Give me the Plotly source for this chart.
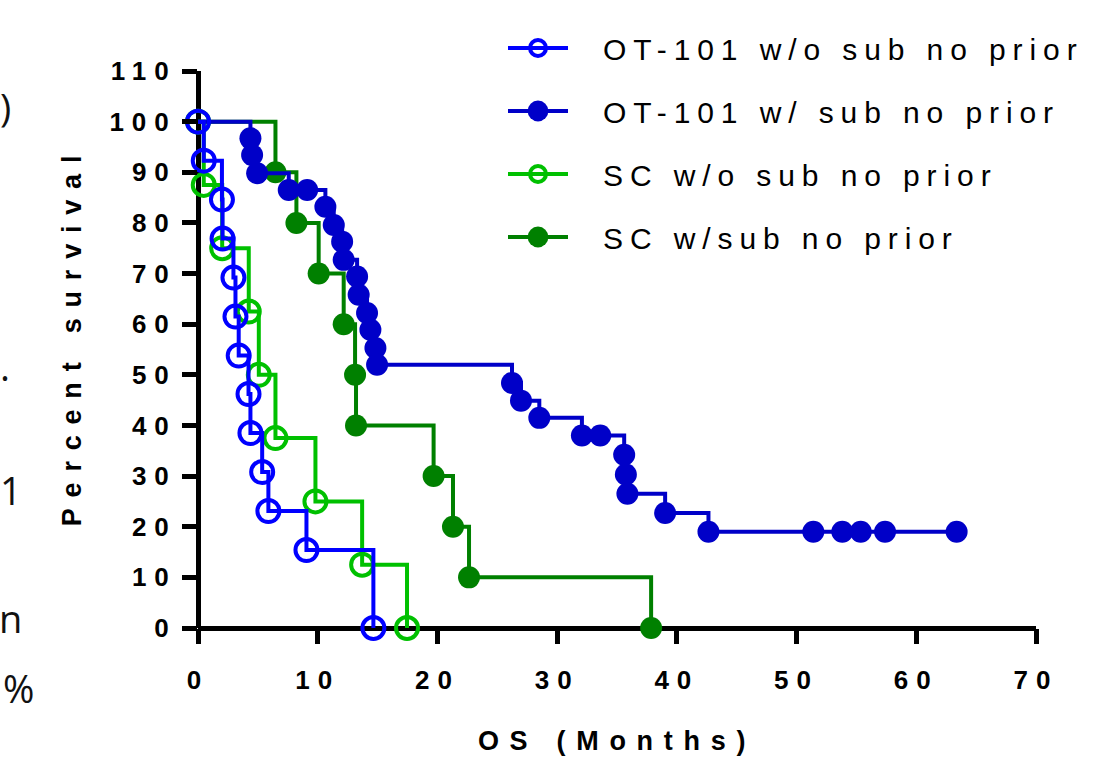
import plotly.graph_objects as go

# ---- data (OS in months, percent survival) ----
ot_wo_t = [0.48, 2.0, 2.05, 2.96, 3.13, 3.4, 4.22, 4.38, 5.36, 5.88, 9.06, 14.65]
ot_wo_s = [92.3, 84.6, 76.9, 69.2, 61.5, 53.8, 46.2, 38.5, 30.8, 23.1, 15.4, 0]

ot_w_t = [4.38, 4.52, 4.94, 7.58, 9.12, 10.64, 11.34, 12.04, 12.17, 13.29,
          13.42, 14.12, 14.4, 14.82, 14.96, 26.23, 26.98, 28.51, 32.07, 33.6,
          35.6, 35.74, 35.87, 39.02, 42.64, 51.4, 53.82, 55.36, 57.39, 63.37]
ot_w_s = [96.7, 93.4, 89.8, 86.5, 86.5, 83.2, 79.6, 76.3, 72.7, 69.4,
          65.8, 62.2, 58.9, 55.3, 52.0, 48.4, 44.9, 41.5, 38.0, 38.0,
          34.2, 30.3, 26.5, 22.7, 19.0, 19.0, 19.0, 19.0, 19.0, 19.0]

sc_wo_t = [0.48, 2.02, 4.24, 5.08, 6.47, 9.81, 13.71, 17.46]
sc_wo_s = [87.5, 75, 62.5, 50, 37.5, 25, 12.5, 0]

sc_w_t = [6.47, 8.22, 10.08, 12.17, 13.12, 13.2, 19.68, 21.3, 22.64, 37.85]
sc_w_s = [90, 80, 70, 60, 50, 40, 30, 20, 10, 0]

series_names = ["OT-101 w/o sub no prior", "OT-101 w/ sub no prior",
                "SC w/o sub no prior", "SC w/sub no prior"]
x_ticks = [0, 10, 20, 30, 40, 50, 60, 70]
y_ticks = [0, 10, 20, 30, 40, 50, 60, 70, 80, 90, 100, 110]

# drawing order: bottom first
series = [
    dict(name=series_names[3], t=sc_w_t, s=sc_w_s, color="#008000", open=False, rank=4),
    dict(name=series_names[2], t=sc_wo_t, s=sc_wo_s, color="#00C000", open=True, rank=3),
    dict(name=series_names[1], t=ot_w_t, s=ot_w_s, color="#0000C8", open=False, rank=2),
    dict(name=series_names[0], t=ot_wo_t, s=ot_wo_s, color="#0000FF", open=True, rank=1),
]

fig = go.Figure()
for i, sd in enumerate(series):
    xs = [0] + sd["t"]
    ys = [100] + sd["s"]
    sizes = [22 if sd["open"] else 0] + [22] * len(sd["t"])
    fig.add_trace(go.Scatter(
        x=xs, y=ys, mode="lines+markers", name=sd["name"],
        line=dict(shape="hv", width=4, color=sd["color"]),
        marker=dict(symbol="circle-open" if sd["open"] else "circle",
                    size=sizes, color=sd["color"], opacity=1,
                    line=dict(width=4 if sd["open"] else 0, color=sd["color"])),
        legendrank=sd["rank"], legendgroup=str(i), cliponaxis=False,
        hoverinfo="skip",
    ))

tickfont = dict(family="Liberation Sans", size=26, color="black", weight="bold")
titlefont = dict(family="Liberation Sans", size=27, color="black", weight="bold")

fig.update_layout(
    width=1093, height=765,
    margin=dict(l=198, r=57, t=71, b=137, autoexpand=False),
    paper_bgcolor="white", plot_bgcolor="white",
    showlegend=True,
    legend=dict(x=(503 - 198) / 838, xanchor="left", y=1 + (71 - 22) / 557, yanchor="top",
                font=dict(family="Liberation Sans", size=30, color="black"),
                bgcolor="rgba(0,0,0,0)", itemwidth=60, tracegroupgap=21,
                itemsizing="trace"),
    xaxis=dict(range=[0, 70], tickvals=x_ticks, ticktext=[str(v) for v in x_ticks],
               showgrid=False, showline=False, zeroline=True, zerolinecolor="black",
               zerolinewidth=5, ticks="outside", ticklen=15, tickwidth=5, tickcolor="black",
               tickfont=tickfont, ticklabelstandoff=14,
               title=dict(text="OS (Months)", font=titlefont, standoff=36)),
    yaxis=dict(range=[0, 110], tickvals=y_ticks, ticktext=[str(v) for v in y_ticks],
               showgrid=False, showline=False, zeroline=True, zerolinecolor="black",
               zerolinewidth=5, ticks="outside", ticklen=15, tickwidth=5, tickcolor="black",
               tickfont=tickfont,
               title=dict(text="Percent survival", font=titlefont, standoff=43)),
)

# fragments of neighbouring text at the left edge of the picture
frag_font = dict(family="Open Sans", size=38, color="#111111")
for txt, px, py in [(")", 13, 107), (".", 12, 366), ("1", 24, 490), ("n", 24, 618), ("%", 36, 688)]:
    fig.add_annotation(text=txt, xref="paper", yref="paper",
                       x=(px - 198) / 838, y=(628 - py) / 557,
                       xanchor="right", yanchor="middle", showarrow=False, font=frag_font)

post = """
var gd = document.getElementById('{plot_id}');
function ls(sel, v){ gd.querySelectorAll(sel).forEach(function(t){ t.style.letterSpacing = v; }); }
ls('.xtick text', '8px'); ls('.ytick text', '8px');
ls('text.xtitle', '10.7px'); ls('text.ytitle', '10.8px');
ls('text.legendtext', '6.9px');
gd.querySelectorAll('.legend .scrollbox').forEach(function(e){ e.removeAttribute('clip-path'); });
gd.querySelectorAll('.legend').forEach(function(e){ e.removeAttribute('clip-path'); });
gd.querySelectorAll('text.legendtext').forEach(function(t){
    t.setAttribute('x', parseFloat(t.getAttribute('x') || 0) + 30);
});
gd.querySelectorAll('.legend path.scatterpts').forEach(function(p){
    if (p.style.fill && p.style.fill !== 'none' && p.style.fill !== 'rgba(0, 0, 0, 0)') {
        p.setAttribute('transform', (p.getAttribute('transform') || '') + ' scale(1.3)');
    }
});
gd.querySelectorAll('text.ytitle').forEach(function(t){
    t.setAttribute('transform', 'translate(0,-14) ' + (t.getAttribute('transform') || ''));
});
"""

fig.write_html("out.html", post_script=post, config={"displayModeBar": False, "responsive": False})
